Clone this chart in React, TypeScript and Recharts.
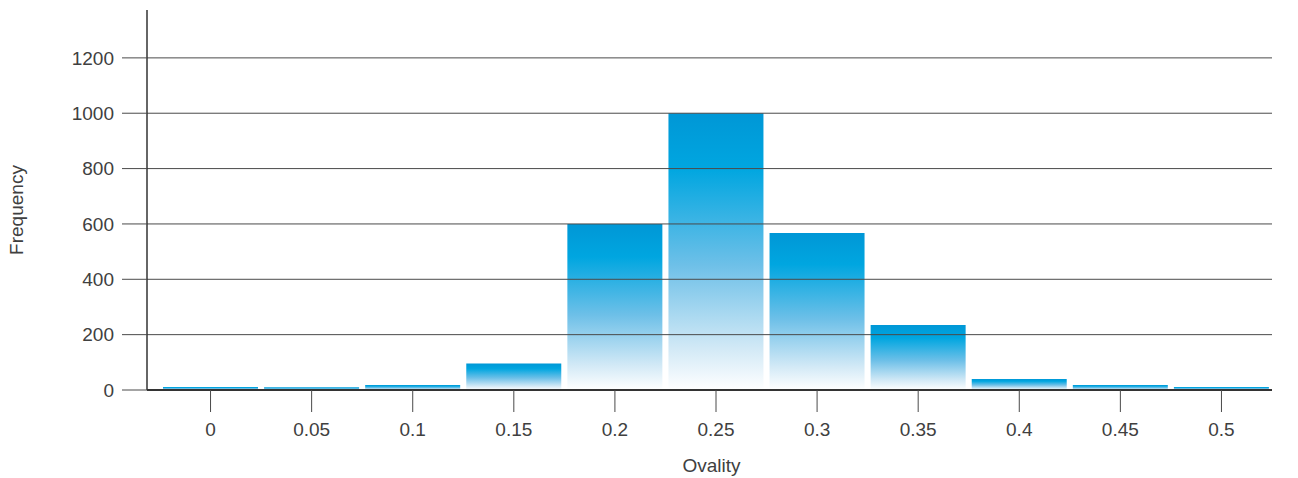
import React from 'react';
import { BarChart, Bar, XAxis, YAxis, ReferenceLine } from 'recharts';

const categories = ['0', '0.05', '0.1', '0.15', '0.2', '0.25', '0.3', '0.35', '0.4', '0.45', '0.5'];
const frequencies = [11, 10, 18, 96, 600, 1000, 567, 235, 40, 18, 11];
const yTicks = [0, 200, 400, 600, 800, 1000, 1200];

const data = categories.map((c, i) => ({ ovality: c, frequency: frequencies[i] }));

const textColor = '#404040';
const lineColor = '#4a4a4a';
const font = '"Liberation Sans", Arial, sans-serif';
const fontSize = 19;

const YLabel = (props: any) => {
  const { viewBox } = props;
  const x = 16;
  const y = viewBox.y + viewBox.height / 2 + 10;
  return (
    <text x={x} y={y} transform={`rotate(-90, ${x}, ${y})`} textAnchor="middle" dominantBaseline="central"
      fill={textColor} fontSize={fontSize} fontFamily={font}>
      Frequency
    </text>
  );
};

const XLabel = (props: any) => {
  const { viewBox } = props;
  const x = viewBox.x + viewBox.width / 2 + 2;
  return (
    <text x={x} y={465} textAnchor="middle" dominantBaseline="central" fill={textColor} fontSize={fontSize} fontFamily={font}>
      Ovality
    </text>
  );
};

export default function App() {
  return (
    <div style={{ position: 'absolute', left: 0, top: 0, background: '#fff' }}>
      <BarChart width={1298} height={478} data={data} margin={{ top: 10, right: 26, bottom: 0, left: 0 }}
        barCategoryGap={3}>
        <defs>
          <linearGradient id="barFill" x1="0" y1="0" x2="0" y2="1">
            <stop offset="0%" stopColor="#0097d6" />
            <stop offset="20%" stopColor="#00a6e0" />
            <stop offset="55%" stopColor="#6ec0e8" />
            <stop offset="85%" stopColor="#d2e9f6" />
            <stop offset="100%" stopColor="#ffffff" />
          </linearGradient>
        </defs>
        {yTicks.slice(1).map((t) => (
          <ReferenceLine key={t} y={t} stroke={lineColor} ifOverflow="extendDomain" />
        ))}
        <XAxis dataKey="ovality" height={88} padding={{ left: 13, right: 0 }} tickSize={22} tickMargin={11}
          axisLine={{ stroke: '#333', strokeWidth: 2 }} tickLine={{ stroke: lineColor }}
          tick={{ fill: textColor, fontSize, fontFamily: font }} label={<XLabel />} />
        <YAxis width={147} domain={[0, 1373]} ticks={yTicks} tickSize={25} tickMargin={8} allowDataOverflow
          axisLine={{ stroke: '#333', strokeWidth: 1.5 }} tickLine={{ stroke: lineColor }}
          tick={{ fill: textColor, fontSize, fontFamily: font }} label={<YLabel />} />
        <Bar dataKey="frequency" fill="url(#barFill)" isAnimationActive={false} />
      </BarChart>
    </div>
  );
}
